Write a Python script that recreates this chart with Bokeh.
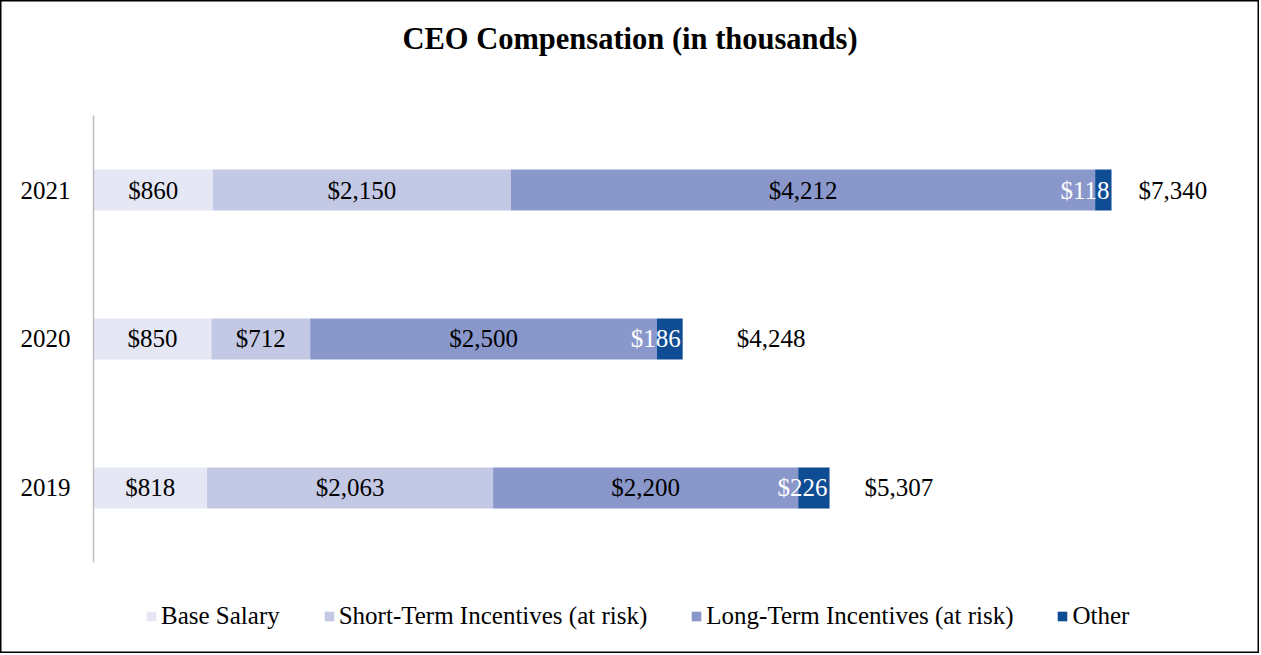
import numpy as np
from bokeh.plotting import figure
from bokeh.models import ColumnDataSource, Range1d, Label, Legend
from bokeh.core.properties import value
from bokeh.embed import file_html
from bokeh.resources import INLINE

# ---- data ----
years = ["2019", "2020", "2021"]
base_salary = [818, 850, 860]
short_term = [2063, 712, 2150]
long_term = [2200, 2500, 4212]
other = [226, 186, 118]
series_names = ["Base Salary", "Short-Term Incentives (at risk)",
                "Long-Term Incentives (at risk)", "Other"]
title_text = "CEO Compensation (in thousands)"

# ---- styles ----
colors = ["#E5E7F4", "#C3C8E5", "#8A97CB", "#0E4C94"]
FONT = "Liberation Serif"
FS = "25px"
total_gap_px = [35, 54, 27]

def money(v):
    return "${:,}".format(v)

ypos = np.arange(len(years))
keys = ["base", "sti", "lti", "other"]
src = ColumnDataSource(dict(y=ypos, base=base_salary, sti=short_term,
                            lti=long_term, other=other))

W, H = 1259, 653
p = figure(width=W, height=H, output_backend="svg", toolbar_location=None,
           x_axis_location=None, y_axis_location=None,
           x_range=Range1d(-670.6, 8407), y_range=Range1d(-1.111, 3.272),
           min_border=0, outline_line_color="black", outline_line_width=2,
           background_fill_color="white", border_fill_color="white")
p.xgrid.visible = False
p.ygrid.visible = False

renderers = p.hbar_stack(keys, y="y", height=0.275, color=colors, source=src,
                         line_color=None)

# axis line
p.segment(x0=[0], y0=[-0.5], x1=[0], y1=[len(years) - 0.5],
          line_color="#BFBFBF", line_width=1.5)

# year labels
p.text(x=[0] * len(years), y=ypos, text=years, x_offset=-23,
       text_align="right", text_baseline="middle",
       text_font=value(FONT), text_font_size=FS, text_color="black")

# segment labels
vals = [base_salary, short_term, long_term]
starts = np.zeros(len(years))
for arr in vals:
    arr = np.array(arr, dtype=float)
    centers = starts + arr / 2
    p.text(x=centers, y=ypos, text=[money(int(v)) for v in arr],
           text_align="center", text_baseline="middle",
           text_font=value(FONT), text_font_size=FS, text_color="black")
    starts = starts + arr
oth = np.array(other, dtype=float)
ends = starts + oth
p.text(x=ends, y=ypos, text=[money(int(v)) for v in oth], x_offset=-2,
       text_align="right", text_baseline="middle",
       text_font=value(FONT), text_font_size=FS, text_color="white")

# totals
totals = [int(v) for v in ends]
tsrc = ColumnDataSource(dict(x=ends, y=ypos, t=[money(v) for v in totals],
                             off=total_gap_px))
p.text(x="x", y="y", text="t", x_offset="off", source=tsrc,
       text_align="left", text_baseline="middle",
       text_font=value(FONT), text_font_size=FS, text_color="black")

# title
p.add_layout(Label(x=W / 2, y=H - 38, x_units="screen", y_units="screen",
                   text=title_text, text_align="center", text_baseline="middle",
                   text_font=FONT, text_font_size="30.5px",
                   text_font_style="bold", text_color="black"))

legend = Legend(items=[(n, [r]) for n, r in zip(series_names, renderers)],
                orientation="horizontal", location=(145, 23),
                glyph_width=12, glyph_height=12, label_standoff=4, spacing=43,
                padding=0, margin=0, border_line_color=None,
                background_fill_alpha=0, label_text_font=FONT,
                label_text_font_size=FS, label_text_color="#000000")
p.add_layout(legend, "center")

open("out.html", "w").write(file_html(p, INLINE))
